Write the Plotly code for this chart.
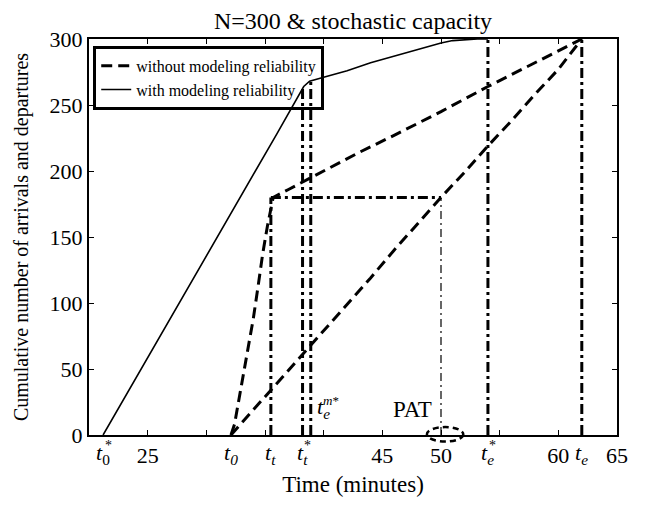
import plotly.graph_objects as go

# ---------------- data ----------------
# cumulative curve "with modeling reliability"
t_with = [21.2, 24, 27, 30, 33, 36, 38.3, 38.8, 40, 42, 44, 46, 48, 50, 51, 52, 53.1, 54]
n_with = [0, 43, 89, 135, 182, 228, 264, 268, 271, 276, 282, 287, 292, 297, 298.8, 299.5, 300, 300]

# "without modeling reliability" : steep curve then slower line
t_wo_a = [32.1, 32.4, 32.8, 33.2, 33.6, 34.0, 34.4, 34.8, 35.2, 35.5, 35.7, 37, 40, 43, 46, 50, 54, 58, 62]
n_wo_a = [0, 8, 28, 48, 68, 88, 112, 137, 158, 172, 180, 186, 200, 214, 227, 245, 264, 282, 300]

# "without modeling reliability" : straight diagonal
t_wo_b = [32.1, 34, 36, 38, 40, 42, 44, 46, 48, 50, 52, 54, 56, 58, 60, 62]
n_wo_b = [0, 19, 39, 59, 79, 99, 119, 140, 160, 180, 199, 219, 238, 258, 277, 300]

# key instants (minutes) and levels
t0_star = 21.2
t0 = 32.1
t_t = 35.5
t_t_star = 38.2
t_e_m_star = 38.9
t_e_star = 54.0
t_e = 62.0
t_pat = 50.0
n_tt = 180
n_tt_star = 264
n_em = 268
N = 300

x_ticks = [25, 30, 35, 40, 45, 50, 55, 60, 65]
x_ticklabels = ["25", "", "", "", "45", "50", "", "60", "65"]
y_ticks = [0, 50, 100, 150, 200, 250, 300]

XR = [20, 65]
YR = [0, 300]

FONT = "Liberation Serif"
DASH = "11px,6px"
DASHDOT = "10px,4px,3px,4px"

fig = go.Figure()

fig.add_trace(go.Scatter(x=t_wo_a, y=n_wo_a, mode="lines",
                         line=dict(color="black", width=3, dash=DASH),
                         name="without modeling reliability"))
fig.add_trace(go.Scatter(x=t_wo_b, y=n_wo_b, mode="lines",
                         line=dict(color="black", width=3, dash=DASH),
                         showlegend=False))
fig.add_trace(go.Scatter(x=t_with, y=n_with, mode="lines",
                         line=dict(color="black", width=1.6),
                         name="with modeling reliability"))

# reference dash-dot lines
def guide(xs, ys, width=3, dash=DASHDOT):
    fig.add_trace(go.Scatter(x=xs, y=ys, mode="lines",
                             line=dict(color="black", width=width, dash=dash),
                             showlegend=False, hoverinfo="skip"))

guide([t_t, t_t], [0, n_tt])
guide([t_t, t_pat], [n_tt, n_tt])
guide([t_pat, t_pat], [0, n_tt], width=1.2, dash="8px,4px,2px,4px")
guide([t_t_star, t_t_star], [0, n_tt_star])
guide([t_e_m_star, t_e_m_star], [0, n_em])
guide([t_e_star, t_e_star], [0, N])
guide([t_e, t_e], [0, N])

# x labels for key instants
def xlab(x, base, star=False, dx_star=5):
    fig.add_annotation(x=x, y=0, xref="x", yref="paper", yanchor="top",
                       yshift=-3, showarrow=False, text=base,
                       font=dict(family=FONT, size=22, color="black"))
    if star:
        fig.add_annotation(x=x, y=0, xref="x", yref="paper", yanchor="top",
                           yshift=-1, xshift=dx_star, showarrow=False, text="*",
                           font=dict(family=FONT, size=14, color="black"))

xlab(t0_star, "<i>t</i><sub>0</sub>", star=True)
xlab(t0, "<i>t</i><sub><i>0</i></sub>")
xlab(t_t, "<i>t</i><sub><i>t</i></sub>")
xlab(t_t_star, "<i>t</i><sub><i>t</i></sub>", star=True)
xlab(t_e_star, "<i>t</i><sub><i>e</i></sub>", star=True)
xlab(t_e, "<i>t</i><sub><i>e</i></sub>")

# in-plot labels
fig.add_annotation(x=40.0, y=8, xref="x", yref="y", yanchor="bottom", showarrow=False,
                   text="<i>t</i><sub><i>e</i></sub>",
                   font=dict(family=FONT, size=22, color="black"))
fig.add_annotation(x=40.0, y=8, xref="x", yref="y", yanchor="bottom", showarrow=False,
                   xshift=7, yshift=14, text="<i>m</i>*",
                   font=dict(family=FONT, size=13, color="black"))
fig.add_annotation(x=47.6, y=19, xref="x", yref="y", showarrow=False,
                   text="PAT", font=dict(family=FONT, size=23, color="black"))

# PAT brace (ellipse straddling the time axis)
def px(x):
    return (x - XR[0]) / (XR[1] - XR[0])

def py(v):
    return (v - YR[0]) / (YR[1] - YR[0])

fig.add_shape(type="circle", xref="paper", yref="paper",
              x0=px(48.8), x1=px(51.9), y0=py(-5), y1=py(6),
              line=dict(color="black", width=2.5, dash="6px,4px"))

fig.update_layout(
    width=653, height=505,
    margin=dict(l=89, r=36, t=39, b=65),
    plot_bgcolor="white", paper_bgcolor="white",
    font=dict(family=FONT, size=22, color="black"),
    title=dict(text="N=300 & stochastic capacity", x=0.5, xref="paper", xanchor="center",
               y=0.96, yanchor="middle", font=dict(family=FONT, size=24)),
    legend=dict(x=0.008, y=0.983, xanchor="left", yanchor="top",
                bgcolor="rgba(0,0,0,0)", bordercolor="black", borderwidth=3,
                font=dict(family=FONT, size=16), itemwidth=30,
                tracegroupgap=0),
    showlegend=True,
)
fig.update_xaxes(range=XR, tickvals=x_ticks, ticktext=x_ticklabels,
                 ticks="inside", ticklen=5, tickcolor="black", showline=True,
                 linecolor="black", linewidth=2, mirror="ticks", showgrid=False,
                 zeroline=False, title=dict(text="Time (minutes)", standoff=8,
                                            font=dict(size=23)),
                 tickfont=dict(family=FONT, size=22))
fig.update_yaxes(range=YR, tickvals=y_ticks, ticks="inside", ticklen=5,
                 tickcolor="black", showline=True, linecolor="black", linewidth=2,
                 mirror="ticks", showgrid=False, zeroline=False,
                 title=dict(text="Cumulative number of arrivals and departures", standoff=16,
                            font=dict(size=20)),
                 tickfont=dict(family=FONT, size=22))

fig.write_html("out.html")
